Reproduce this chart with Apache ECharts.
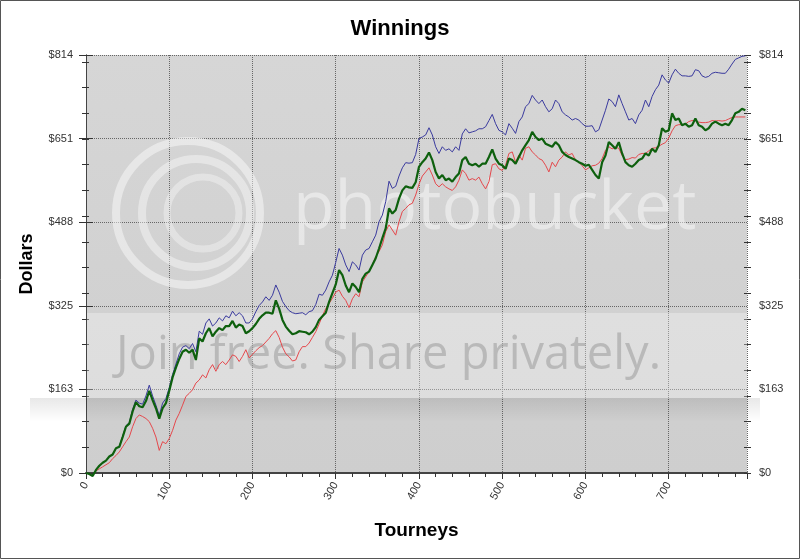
<!DOCTYPE html>
<html>
<head>
<meta charset="utf-8">
<script src="https://cdn.jsdelivr.net/npm/echarts@6/dist/echarts.min.js"></script>
<style>
  html, body { margin: 0; padding: 0; background: #fff; }
  #main { width: 800px; height: 559px; }
</style>
</head>
<body>
<div id="main"></div>
<script>
// tourneys are sampled every 4 games
const TOURNEY_STEP = 4
const X_MAX = 794
const Y_MAX = 813.6

const greenValues = [
    0, -2, -6, 6, 14, 20, 24, 32, 36, 48, 51, 70, 90, 96, 120, 138, 130, 128, 140, 160,
    142, 126, 106, 126, 136, 160, 186, 205, 222, 236, 240, 234, 240, 220, 262, 256, 272, 282, 266, 275,
    282, 278, 286, 286, 296, 283, 289, 286, 272, 276, 282,
    290, 300, 307, 312, 312, 310, 336, 320, 298, 285, 277, 270, 272, 276, 275, 274, 270, 275, 284, 298,
    305, 312, 333, 350, 367, 395, 385, 365, 352, 369, 362, 352, 378, 388, 392, 405, 418, 437, 457, 476,
    515, 505, 512, 534, 550, 558, 556, 555, 566, 596,
    605, 612, 624, 609, 586, 573, 580, 570, 573, 567, 576, 583, 609, 615, 602, 599, 602, 596, 602, 602,
    615, 630, 612, 602, 599, 592, 612, 609, 602, 615, 628, 638, 648, 664, 654, 648, 651, 641, 638, 635,
    644, 638, 625, 619, 615, 612, 609, 605, 602, 598,
    600, 590, 580, 573, 605, 618, 644, 638, 631, 644, 622, 605, 599, 596, 602, 609, 612, 622, 618, 631,
    625, 638, 671, 664, 667, 700, 687, 690, 677, 680, 674, 677, 690, 677, 674, 667, 671, 680, 684, 680,
    677, 680, 677, 687, 700, 703, 709, 706
]

const blueValues = [
    0, -2, -6, 6, 14, 20, 24, 32, 36, 48, 52, 72, 92, 98, 124, 142, 136, 134, 150, 171,
    150, 132, 112, 136, 145, 166, 192, 212, 232, 245, 248, 242, 252, 236, 276, 270, 292, 300, 286, 292,
    302, 296, 306, 302, 315, 306, 312, 306, 292, 292, 300,
    314, 326, 333, 343, 336, 346, 366, 352, 334, 324, 316, 312, 310, 311, 312, 308, 314, 316, 328, 348,
    346, 356, 372, 385, 410, 437, 424, 405, 392, 411, 405, 395, 424, 434, 437, 450, 463, 489, 502, 528,
    568, 554, 558, 578, 594, 604, 603, 604, 620, 651,
    654, 658, 672, 658, 635, 622, 635, 628, 631, 625, 635, 628, 660, 670, 662, 664, 666, 670, 670, 674,
    686, 698, 680, 667, 664, 658, 680, 671, 661, 684, 693, 713, 719, 735, 726, 719, 726, 713, 703, 709,
    726, 719, 703, 697, 693, 687, 690, 687, 680, 675,
    675, 676, 664, 668, 687, 706, 728, 723, 713, 736, 719, 703, 687, 690, 680, 697, 706, 726, 713, 733,
    746, 755, 775, 765, 759, 775, 786, 778, 773, 773, 772, 773, 785, 783, 773, 770, 772, 778, 780, 779,
    778, 778, 786, 796, 805, 808, 811, 812
]

const redValues = [
    0, -2, -4, 4, 8, 12, 16, 20, 28, 34, 41, 51, 61, 70, 90, 106, 113, 110, 106, 100,
    87, 70, 44, 61, 57, 67, 83, 103, 116, 132, 149, 155, 162, 175, 181, 191, 185, 201, 211, 198,
    211, 217, 211, 220, 230, 227, 217, 227, 240, 224, 231,
    238, 244, 248, 255, 262, 271, 277, 264, 245, 232, 226, 218, 220, 236, 246, 246, 253, 264, 275, 290,
    306, 320, 330, 340, 352, 356, 344, 336, 322, 339, 349, 343, 372, 382, 392, 405, 421, 431, 444, 470,
    483, 473, 463, 489, 509, 515, 522, 525, 541, 562,
    578, 586, 594, 580, 563, 557, 563, 557, 553, 550, 557, 570, 590, 583, 570, 573, 570, 576, 563, 553,
    567, 600, 602, 592, 589, 599, 622, 625, 605, 619, 609, 632, 635, 625, 619, 612, 609, 599, 586, 605,
    596, 609, 615, 625, 619, 622, 609, 605, 598, 590,
    594, 598, 599, 603, 612, 628, 635, 631, 634, 632, 618, 610, 611, 614, 613, 620, 622, 622, 627, 632,
    633, 636, 640, 643, 652, 666, 676, 678, 678, 679, 684, 686, 686, 683, 682, 682, 683, 686, 685, 686,
    685, 686, 689, 692, 693, 693, 693, 693
]

const tourneys = greenValues.map((v, i) => i * TOURNEY_STEP)
const toPairs = (values) => values.map((v, i) => [tourneys[i], v])

const FONT = 'Liberation Sans, Arial, sans-serif'
const axisColor = '#444'

const xAxisBase = {
    type: 'value',
    min: 0,
    max: X_MAX,
    interval: 100
}
const yAxisBase = {
    type: 'value',
    min: 0,
    max: Y_MAX
}
// y axes that only carry the small $50 ticks
const minorY = (position, inside, length) => ({
    ...yAxisBase,
    position: position,
    interval: 50,
    axisLine: { show: false },
    axisTick: { show: true, inside: inside, length: length, lineStyle: { color: '#333' } },
    axisLabel: { show: false },
    splitLine: { show: false }
})

let chart = echarts.init(document.getElementById('main'))
chart.setOption({
    animation: false,
    backgroundColor: '#fff',
    title: {
        text: 'Winnings',
        left: 'center',
        top: 13,
        textStyle: { fontFamily: FONT, fontSize: 22, fontWeight: 'bold', color: '#000' }
    },
    grid: {
        left: 86, right: 53, top: 55, bottom: 86,
        show: true,
        backgroundColor: new echarts.graphic.LinearGradient(0, 0, 0, 1, [
            { offset: 0, color: '#d6d6d6' },
            { offset: 1, color: '#cecece' }
        ]),
        borderWidth: 0
    },
    xAxis: [
        {
            ...xAxisBase,
            position: 'bottom',
            name: 'Tourneys',
            nameLocation: 'middle',
            nameGap: 48,
            nameTextStyle: { fontFamily: FONT, fontSize: 19, fontWeight: 'bold', color: '#000' },
            axisLine: { lineStyle: { color: axisColor, width: 2 } },
            axisTick: { length: 6, lineStyle: { color: '#333' } },
            minorTick: { show: true, splitNumber: 5, length: 4, lineStyle: { color: '#333' } },
            axisLabel: { rotate: 60, margin: 10, fontFamily: FONT, fontSize: 11, color: '#333', showMaxLabel: false },
            splitLine: { show: true, lineStyle: { color: '#666', type: 'dotted' } }
        },
        {
            ...xAxisBase,
            position: 'top',
            axisLine: { lineStyle: { color: axisColor } },
            axisTick: { inside: true, length: 5, lineStyle: { color: '#333' } },
            minorTick: { show: true, splitNumber: 5, length: 3, lineStyle: { color: '#333' } },
            axisLabel: { show: false },
            splitLine: { show: false }
        }
    ],
    yAxis: [
        {
            ...yAxisBase,
            position: 'left',
            interval: Y_MAX / 5,
            name: 'Dollars',
            nameLocation: 'middle',
            nameGap: 50,
            nameTextStyle: { fontFamily: FONT, fontSize: 18, fontWeight: 'bold', color: '#000' },
            axisLine: { show: true, lineStyle: { color: axisColor } },
            axisTick: { show: true, length: 7, lineStyle: { color: '#333' } },
            axisLabel: { margin: 13, fontFamily: FONT, fontSize: 11, color: '#333', formatter: v => '$' + Math.round(v) },
            splitLine: { show: true, lineStyle: { color: '#666', type: 'dotted' } }
        },
        {
            ...yAxisBase,
            position: 'right',
            interval: Y_MAX / 5,
            axisLine: { show: true, lineStyle: { color: axisColor } },
            axisTick: { show: true, length: 7, lineStyle: { color: '#333' } },
            axisLabel: { margin: 12, fontFamily: FONT, fontSize: 11, color: '#333', formatter: v => '$' + Math.round(v) },
            splitLine: { show: false }
        },
        minorY('left', false, 4),
        minorY('left', true, 3),
        minorY('right', false, 4),
        minorY('right', true, 3)
    ],
    graphic: [
        // photobucket watermark
        { type: 'circle', z: 1, shape: { cx: 188, cy: 213, r: 72 }, style: { fill: null, stroke: 'rgba(255,255,255,0.45)', lineWidth: 8 } },
        { type: 'circle', z: 1, shape: { cx: 196, cy: 213, r: 54 }, style: { fill: null, stroke: 'rgba(255,255,255,0.4)', lineWidth: 8 } },
        { type: 'circle', z: 1, shape: { cx: 203, cy: 213, r: 36 }, style: { fill: null, stroke: 'rgba(255,255,255,0.35)', lineWidth: 7 } },
        { type: 'text', z: 1, style: { text: 'photobucket', x: 293, y: 210, font: '68px "Open Sans", sans-serif', fill: 'rgba(255,255,255,0.45)', verticalAlign: 'middle' } },
        { type: 'rect', z: 1, shape: { x: 87, y: 313, width: 660, height: 85 }, style: { fill: 'rgba(255,255,255,0.3)' } },
        {
            type: 'rect', z: 1, shape: { x: 30, y: 398, width: 730, height: 24 },
            style: {
                fill: new echarts.graphic.LinearGradient(0, 0, 0, 1, [
                    { offset: 0, color: 'rgba(0,0,0,0.09)' },
                    { offset: 1, color: 'rgba(0,0,0,0)' }
                ])
            }
        },
        { type: 'text', z: 1, style: { text: 'Join free. Share privately.', x: 116, y: 356, font: '47px "Open Sans", sans-serif', fill: 'rgba(140,140,140,0.45)', verticalAlign: 'middle' } },
        // outer frame
        { type: 'rect', z: 10, shape: { x: 0.5, y: 0.5, width: 799, height: 558 }, style: { fill: null, stroke: '#555', lineWidth: 1 } }
    ],
    series: [
        {
            type: 'line', name: 'red', data: toPairs(redValues), symbol: 'none', z: 3, clip: false,
            lineStyle: { color: '#e5484c', width: 1 }
        },
        {
            type: 'line', name: 'blue', data: toPairs(blueValues), symbol: 'none', z: 4, clip: false,
            lineStyle: { color: '#3a3a9e', width: 1 }
        },
        {
            type: 'line', name: 'green', data: toPairs(greenValues), symbol: 'none', z: 5, clip: false,
            lineStyle: { color: '#0e600e', width: 2.2 }
        }
    ]
})
</script>
</body>
</html>
